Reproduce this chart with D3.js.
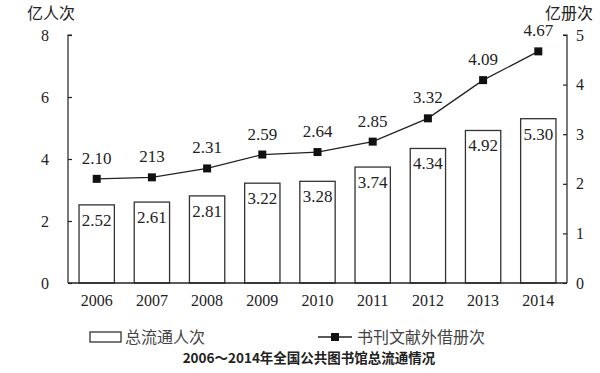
<!DOCTYPE html>
<html>
<head>
<meta charset="utf-8">
<script src="https://cdn.jsdelivr.net/npm/d3@7"></script>
<style>
  body { margin: 0; background: #fff; }
  svg text { font-family: "Liberation Serif", "Times New Roman", serif; fill: #222; }
  .cjk { font-family: "Noto Sans CJK SC", sans-serif; }
</style>
</head>
<body>
<script>
"use strict";

// data
var years = ["2006", "2007", "2008", "2009", "2010", "2011", "2012", "2013", "2014"];
var visits = [2.52, 2.61, 2.81, 3.22, 3.28, 3.74, 4.34, 4.92, 5.30];
var loans = [2.10, 2.13, 2.31, 2.59, 2.64, 2.85, 3.32, 4.09, 4.67];
var loanLabels = ["2.10", "213", "2.31", "2.59", "2.64", "2.85", "3.32", "4.09", "4.67"];
var leftTicks = [0, 2, 4, 6, 8];
var rightTicks = [0, 1, 2, 3, 4, 5];

var W = 600, H = 373;
var plot = { left: 68, right: 567, top: 35, bottom: 283 };

var svg = d3.select("body").append("svg").attr("width", W).attr("height", H);

var x = d3.scaleBand().domain(years).range([plot.left, plot.right]).paddingInner(0.36).paddingOuter(0.2);
var yL = d3.scaleLinear().domain([0, 8]).range([plot.bottom, plot.top]);
var yR = d3.scaleLinear().domain([0, 5]).range([plot.bottom, plot.top]);

//Axes
var axL = svg.append("g").attr("transform", "translate(" + plot.left + ",0)")
  .call(d3.axisRight(yL).tickValues(leftTicks).tickSize(4).tickFormat(d3.format("d")));
axL.selectAll("text").attr("x", -23).attr("text-anchor", "middle").style("font-size", "16px");

var axR = svg.append("g").attr("transform", "translate(" + plot.right + ",0)")
  .call(d3.axisLeft(yR).tickValues(rightTicks).tickSize(4).tickFormat(d3.format("d")));
axR.selectAll("text").attr("x", 13).attr("text-anchor", "middle").style("font-size", "16px");

svg.selectAll(".domain, .tick line").attr("stroke", "#222").attr("stroke-width", 1.2);
axL.select(".domain").attr("d", "M4," + plot.top + "H0V" + plot.bottom);
axR.select(".domain").attr("d", "M-4," + plot.top + "H0V" + plot.bottom);

//Bars
svg.append("g").selectAll("rect").data(visits).enter().append("rect")
  .attr("x", function (d, i) { return x(years[i]); })
  .attr("y", function (d) { return yL(d); })
  .attr("width", x.bandwidth())
  .attr("height", function (d) { return plot.bottom - yL(d); })
  .attr("fill", "#fff").attr("stroke", "#333").attr("stroke-width", 1.3);

svg.append("g").selectAll("text").data(visits).enter().append("text")
  .attr("x", function (d, i) { return x(years[i]) + x.bandwidth() / 2; })
  .attr("y", function (d) { return yL(d) + 21; })
  .attr("text-anchor", "middle").style("font-size", "17px")
  .text(function (d) { return d.toFixed(2); });

// baseline
svg.append("line").attr("x1", plot.left).attr("x2", plot.right).attr("y1", plot.bottom).attr("y2", plot.bottom)
  .attr("stroke", "#222").attr("stroke-width", 1.4);

// year labels
svg.append("g").selectAll("text").data(years).enter().append("text")
  .attr("x", function (d) { return x(d) + x.bandwidth() / 2; })
  .attr("y", 306).attr("text-anchor", "middle").style("font-size", "16px")
  .text(function (d) { return d; });

//Line
var line = d3.line()
  .x(function (d, i) { return x(years[i]) + x.bandwidth() / 2; })
  .y(function (d) { return yR(d); });

svg.append("path").datum(loans).attr("d", line)
  .attr("fill", "none").attr("stroke", "#222").attr("stroke-width", 1.3);

svg.append("g").selectAll("rect").data(loans).enter().append("rect")
  .attr("x", function (d, i) { return x(years[i]) + x.bandwidth() / 2 - 4; })
  .attr("y", function (d) { return yR(d) - 4; })
  .attr("width", 8).attr("height", 8).attr("fill", "#111");

svg.append("g").selectAll("text").data(loans).enter().append("text")
  .attr("x", function (d, i) { return x(years[i]) + x.bandwidth() / 2; })
  .attr("y", function (d) { return yR(d) - 15; })
  .attr("text-anchor", "middle").style("font-size", "17px")
  .text(function (d, i) { return loanLabels[i]; });

//Axis titles
svg.append("text").attr("class", "cjk").attr("x", 51).attr("y", 19)
  .attr("text-anchor", "middle").style("font-size", "16px").text("亿人次");
svg.append("text").attr("class", "cjk").attr("x", 569).attr("y", 19)
  .attr("text-anchor", "middle").style("font-size", "16px").text("亿册次");

//Legend
svg.append("rect").attr("x", 90).attr("y", 332).attr("width", 31).attr("height", 10)
  .attr("fill", "#fff").attr("stroke", "#333").attr("stroke-width", 1.3);
svg.append("text").attr("class", "cjk").attr("x", 125).attr("y", 343)
  .style("font-size", "16px").style("fill", "#444").text("总流通人次");

svg.append("line").attr("x1", 318).attr("x2", 352).attr("y1", 337).attr("y2", 337)
  .attr("stroke", "#222").attr("stroke-width", 1.3);
svg.append("rect").attr("x", 331).attr("y", 333).attr("width", 8).attr("height", 8).attr("fill", "#111");
svg.append("text").attr("class", "cjk").attr("x", 357).attr("y", 343)
  .style("font-size", "16px").style("fill", "#444").text("书刊文献外借册次");

//Title
svg.append("text").attr("class", "cjk").attr("x", 309).attr("y", 363)
  .attr("text-anchor", "middle").style("font-size", "13.5px").style("font-weight", "bold")
  .text("2006～2014年全国公共图书馆总流通情况");
</script>
</body>
</html>
